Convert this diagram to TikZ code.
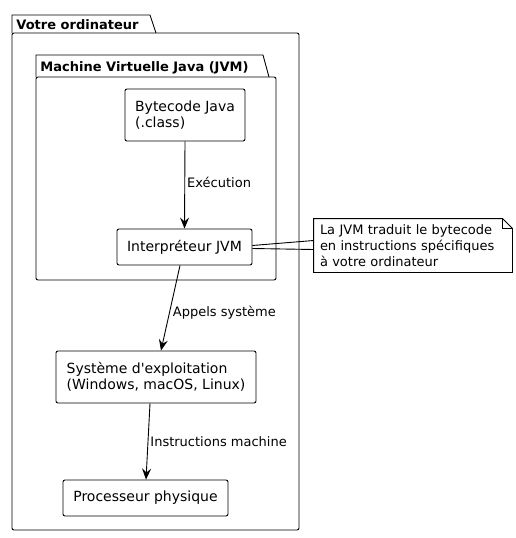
\documentclass[tikz,border=0pt]{standalone}
\usepackage{fontspec}
\setmainfont{DejaVu Sans}
\usetikzlibrary{arrows.meta}

\begin{document}
\begin{tikzpicture}[x=1pt,y=-1pt,line width=0.9pt,
		box/.style={draw,rounded corners=2pt,align=left,font=\fontsize{14}{16}\selectfont,inner sep=0pt},
		lbl/.style={anchor=west,font=\fontsize{13}{15}\selectfont,inner sep=0pt},
		pkg/.style={draw},
		title/.style={anchor=base west,font=\bfseries\fontsize{13}{15}\selectfont,inner sep=0pt},
		flow/.style={-{Stealth[length=11pt,width=9pt,inset=4pt]}}]
	\useasboundingbox (0,0) rectangle (515,538);
	
	% packages
	\draw[pkg] (12,33) -- (12,15) -- (150,15) -- (156,33);
	\draw[pkg,rounded corners=2pt] (12,33) rectangle (299,530);
	\node[title] (pc) at (16,29) {Votre ordinateur};
	\draw[pkg] (36,77) -- (36,55) -- (263,55) -- (269,77);
	\draw[pkg,rounded corners=2pt] (36,77) rectangle (276,280);
	\node[title] (jvm) at (40,71) {Machine Virtuelle Java (JVM)};
	
	% nodes
	\node[box,minimum width=120,minimum height=52] (bytecode) at (185,115) {Bytecode Java\\(.class)};
	\node[box,minimum width=135,minimum height=36] (interp) at (184.5,247) {Interpréteur JVM};
	\node[box,minimum width=200,minimum height=52] (os) at (156,377) {Système d\textquotesingle exploitation\\(Windows, macOS, Linux)};
	\node[box,minimum width=165,minimum height=36] (cpu) at (145.5,498) {Processeur physique};
	
	% note
	\node[align=left,font=\fontsize{13}{16}\selectfont,inner sep=0pt,minimum width=198,minimum height=53,text width=186] (note) at (413,245.5) {La JVM traduit le bytecode\\en instructions spécifiques\\à votre ordinateur};
	\draw (note.north west) -- ([xshift=-10]note.north east) -- ([yshift=-10]note.north east) -- (note.south east) -- (note.south west) -- cycle;
	\draw ([xshift=-10]note.north east) |- ([yshift=-10]note.north east);
	\draw ([yshift=-1.5]interp.east) -- ([yshift=-4]note.west);
	\draw ([yshift=1.5]interp.east) -- ([yshift=5]note.west);
	
	% arrows
	\draw[flow] (bytecode.south) -- (interp.north) node[lbl,midway,xshift=2pt,yshift=3pt] {Exécution};
	\draw[flow] ([xshift=-4.5]interp.south) -- ([xshift=5]os.north) node[lbl,midway,xshift=2pt,yshift=-5pt] {Appels système};
	\draw[flow] ([xshift=-6]os.south) -- ([xshift=0.5]cpu.north) node[lbl,midway,xshift=2pt] {Instructions machine};
\end{tikzpicture}
\end{document}
